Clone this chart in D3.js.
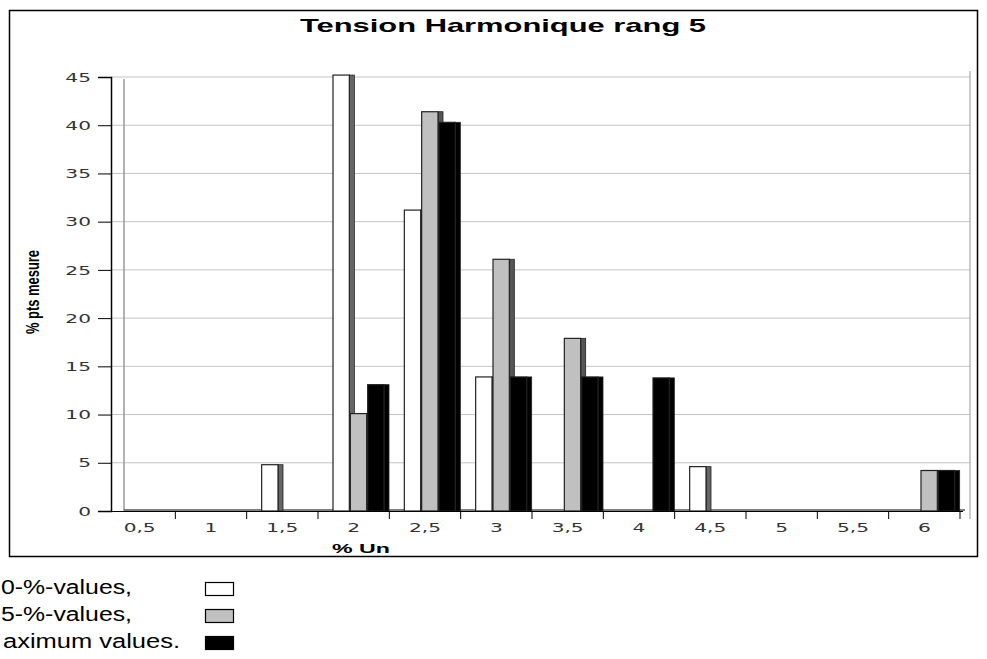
<!DOCTYPE html>
<html>
<head>
<meta charset="utf-8">
<script src="https://cdn.jsdelivr.net/npm/d3@7/dist/d3.min.js"></script>
<style>
  html, body { margin: 0; padding: 0; background: #fff; }
  svg { display: block; }
</style>
</head>
<body>
<div id="chart"></div>
<script>
// categories on the x axis (% Un)
const categories = ['0,5', '1', '1,5', '2', '2,5', '3', '3,5', '4', '4,5', '5', '5,5', '6'];
const seriesNames = ['white', 'gray', 'black'];
// % pts mesure for each series
const whiteValues = [0, 0, 4.8, 45.2, 31.2, 13.9, 0, 0, 4.6, 0, 0, 0];
const grayValues  = [0, 0, 0, 10.1, 41.4, 26.1, 17.9, 0, 0, 0, 0, 4.2];
const blackValues = [0, 0, 0, 13.1, 40.3, 13.9, 13.9, 13.8, 0, 0, 0, 4.2];
const yTicks = [0, 5, 10, 15, 20, 25, 30, 35, 40, 45];
const legendLabels = ['0-%-values,', '5-%-values,', 'aximum values.'];

const W = 987, H = 659;
const fills = { white: '#ffffff', gray: '#c0c0c0', black: '#000000' };
const sides = { white: '#666666', gray: '#555555', black: '#000000' };

const svg = d3.select('#chart').append('svg')
    .attr('width', W)
    .attr('height', H);

// stretch text horizontally, the source picture is wide
function stretch(sel, k) {
    sel.each(function () {
        const w = this.getComputedTextLength();
        this.setAttribute('textLength', w * k);
        this.setAttribute('lengthAdjust', 'spacingAndGlyphs');
    });
}

// outer frame
svg.append('rect')
    .attr('x', 9.5).attr('y', 10.5)
    .attr('width', 968).attr('height', 546)
    .attr('fill', 'none')
    .attr('stroke', '#000')
    .attr('stroke-width', 1.5);

const x = d3.scaleBand().domain(categories).range([104, 960]);
const xs = d3.scaleBand().domain(seriesNames).range([15, 67]);
const y = d3.scaleLinear().domain([0, 45]).range([511, 77]);

// gridlines and back wall
svg.append('g')
    .selectAll('line')
    .data(yTicks.slice(1))
    .join('line')
    .attr('x1', 111).attr('x2', 970)
    .attr('y1', d => y(d)).attr('y2', d => y(d))
    .attr('stroke', '#c4c4c4');

svg.append('line')
    .attr('x1', 124).attr('x2', 124)
    .attr('y1', y(45) + 2).attr('y2', y(0))
    .attr('stroke', '#999').attr('stroke-width', 1.5);
svg.append('line')
    .attr('x1', 970).attr('x2', 970)
    .attr('y1', y(45) - 6).attr('y2', y(0) + 8)
    .attr('stroke', '#999');

// floor
svg.append('line')
    .attr('x1', 124).attr('x2', 965)
    .attr('y1', y(0) - 1).attr('y2', y(0) - 1)
    .attr('stroke', '#555').attr('stroke-width', 1.5);

// bars
const table = categories.map((c, i) => ({
    cat: c,
    values: [
        { key: 'white', v: whiteValues[i] },
        { key: 'gray', v: grayValues[i] },
        { key: 'black', v: blackValues[i] }
    ]
}));

const groups = svg.append('g')
    .selectAll('g')
    .data(table)
    .join('g')
    .attr('transform', d => `translate(${x(d.cat)},0)`);

groups.each(function (d) {
    const g = d3.select(this);
    d.values.forEach(s => {
        if (s.v <= 0) return;
        const x0 = xs(s.key);
        // side face of the bar
        g.append('rect')
            .attr('x', x0 + xs.bandwidth() - 1)
            .attr('y', y(s.v))
            .attr('width', 5)
            .attr('height', y(0) - y(s.v))
            .attr('fill', sides[s.key])
            .attr('stroke', '#222')
            .attr('stroke-width', 0.8);
        g.append('rect')
            .attr('x', x0)
            .attr('y', y(s.v))
            .attr('width', xs.bandwidth() - 1)
            .attr('height', y(0) - y(s.v))
            .attr('fill', fills[s.key])
            .attr('stroke', '#222')
            .attr('stroke-width', 1.2);
    });
});

// y axis
const yAxis = svg.append('g')
    .attr('transform', 'translate(111,0)')
    .call(d3.axisLeft(y).tickValues(yTicks).tickSize(13).tickPadding(7));
yAxis.select('.domain').attr('stroke', '#000').attr('stroke-width', 1.5);
yAxis.selectAll('.tick line').attr('stroke', '#000');
yAxis.selectAll('.tick text')
    .attr('fill', '#333')
    .style('font-family', 'DejaVu Sans, sans-serif')
    .style('font-size', '13px')
    .call(stretch, 1.55);

// x axis
const xAxis = svg.append('g')
    .attr('transform', `translate(0,${y(0)})`)
    .call(d3.axisBottom(x).tickSize(0).tickPadding(12));
xAxis.select('.domain').remove();
xAxis.selectAll('.tick text')
    .attr('fill', '#333')
    .style('font-family', 'DejaVu Sans, sans-serif')
    .style('font-size', '13px')
    .call(stretch, 1.55);

svg.append('line')
    .attr('x1', 111).attr('x2', 963)
    .attr('y1', y(0) + 0.5).attr('y2', y(0) + 0.5)
    .attr('stroke', '#000');

svg.append('g')
    .selectAll('line')
    .data(categories)
    .join('line')
    .attr('x1', d => x(d) + x.bandwidth())
    .attr('x2', d => x(d) + x.bandwidth())
    .attr('y1', y(0)).attr('y2', y(0) + 8)
    .attr('stroke', '#000');

// titles
svg.append('text')
    .attr('x', 503).attr('y', 32)
    .attr('text-anchor', 'middle')
    .style('font-family', 'Liberation Sans, Arial, sans-serif')
    .style('font-weight', 'bold')
    .style('font-size', '19px')
    .attr('textLength', 406)
    .attr('lengthAdjust', 'spacingAndGlyphs')
    .text('Tension Harmonique rang 5');

svg.append('text')
    .attr('transform', 'translate(39,292) rotate(-90)')
    .attr('text-anchor', 'middle')
    .style('font-family', 'Liberation Sans Narrow, Arial Narrow, Liberation Sans, sans-serif')
    .style('font-weight', 'bold')
    .style('font-size', '18px')
    .attr('textLength', 84)
    .attr('lengthAdjust', 'spacingAndGlyphs')
    .text('% pts mesure');

svg.append('text')
    .attr('x', 361).attr('y', 553)
    .attr('text-anchor', 'middle')
    .style('font-family', 'Liberation Sans, Arial, sans-serif')
    .style('font-weight', 'bold')
    .style('font-size', '13px')
    .attr('textLength', 58)
    .attr('lengthAdjust', 'spacingAndGlyphs')
    .text('% Un');

// legend below the frame
const legend = svg.append('g')
    .selectAll('g')
    .data(seriesNames)
    .join('g')
    .attr('transform', (d, i) => `translate(0,${582 + i * 27})`);

legend.append('rect')
    .attr('x', 205.5).attr('y', 0.5)
    .attr('width', 28).attr('height', 13)
    .attr('fill', d => fills[d])
    .attr('stroke', '#000')
    .attr('stroke-width', 1.2);

legend.append('text')
    .attr('x', (d, i) => i === 2 ? 3 : 1)
    .attr('y', 12)
    .style('font-family', 'Liberation Sans, Arial, sans-serif')
    .style('font-size', '20px')
    .attr('textLength', (d, i) => i === 2 ? 177 : 131)
    .attr('lengthAdjust', 'spacingAndGlyphs')
    .text((d, i) => legendLabels[i]);
</script>
</body>
</html>
